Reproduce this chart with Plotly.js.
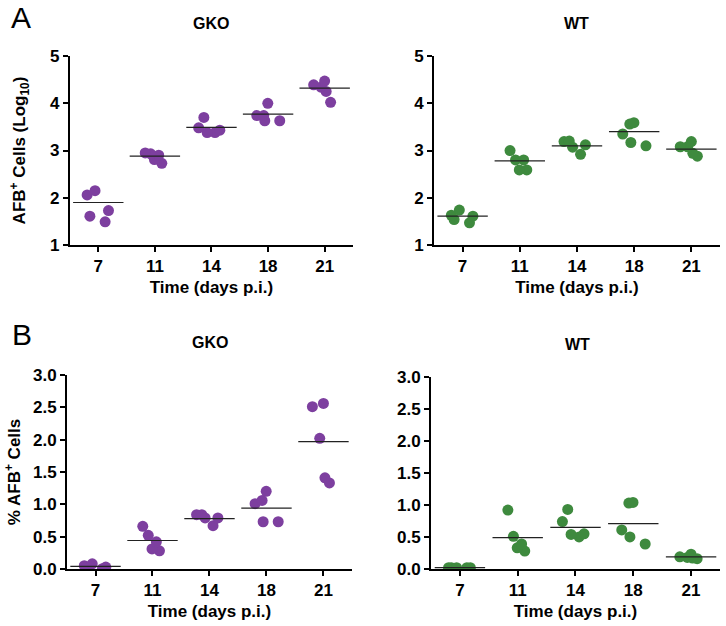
<!DOCTYPE html>
<html>
<head>
<meta charset="utf-8">
<script src="https://cdn.plot.ly/plotly-3.0.1.min.js"></script>
<style>
  html, body { margin: 0; padding: 0; background: #fff; }
  #chart { width: 726px; height: 626px; }
</style>
</head>
<body>
<div id="chart"></div>
<script>
// days post infection (categories)
const days = ['7', '11', '14', '18', '21'];

// A: AFB+ cells (log10), five mice per day
const gkoLog = [
  [2.15, 2.06, 1.73, 1.49, 1.61],
  [2.95, 2.90, 2.73, 2.81, 2.93],
  [3.70, 3.43, 3.38, 3.38, 3.48],
  [4.00, 3.74, 3.63, 3.63, 3.74],
  [4.39, 4.02, 4.34, 4.25, 4.47]
];
const gkoLogMean = [1.90, 2.88, 3.49, 3.77, 4.32];

const wtLog = [
  [1.74, 1.61, 1.47, 1.54, 1.63],
  [2.80, 3.00, 2.59, 2.59, 2.80],
  [3.19, 3.12, 2.92, 3.07, 3.20],
  [3.59, 3.35, 3.10, 3.56, 3.17],
  [3.19, 3.08, 2.88, 2.94, 3.08]
];
const wtLogMean = [1.61, 2.78, 3.10, 3.40, 3.03];

// B: % AFB+ cells
const gkoPct = [
  [0.08, 0.03, 0.005, 0.015, 0.05],
  [0.66, 0.42, 0.28, 0.52, 0.31],
  [0.84, 0.79, 0.67, 0.79, 0.84],
  [1.06, 0.73, 1.01, 0.73, 1.20],
  [2.51, 1.33, 2.02, 2.56, 1.41]
];
const gkoPctMean = [0.04, 0.44, 0.78, 0.94, 1.97];

const wtPct = [
  [0.02, 0.02, 0.02, 0.02, 0.02],
  [0.92, 0.39, 0.28, 0.33, 0.51],
  [0.93, 0.55, 0.50, 0.74, 0.54],
  [1.03, 1.04, 0.61, 0.39, 0.50],
  [0.23, 0.18, 0.16, 0.17, 0.19]
];
const wtPctMean = [0.02, 0.49, 0.65, 0.71, 0.19];

const purple = '#7d3f9f';
const green = '#3e8a3e';
const fontFam = 'Liberation Sans, Arial, sans-serif';

function dots(groups, color, xa, ya) {
  const x = [], y = [];
  groups.forEach((vals, i) => vals.forEach(v => { x.push(days[i]); y.push(v); }));
  return {
    type: 'box', x: x, y: y, xaxis: xa, yaxis: ya,
    boxpoints: 'all', jitter: 0.95, pointpos: 0,
    fillcolor: 'rgba(0,0,0,0)', line: { width: 0, color: 'rgba(0,0,0,0)' },
    marker: { color: color, size: 11 },
    showlegend: false, hoverinfo: 'y'
  };
}

function meanLine(means, xa, ya) {
  return {
    type: 'scatter', mode: 'markers', x: days, y: means, xaxis: xa, yaxis: ya,
    marker: { symbol: 'line-ew', size: 36, line: { width: 1.2, color: '#222' } },
    cliponaxis: false, showlegend: false, hoverinfo: 'y'
  };
}

const traces = [
  dots(gkoLog, purple, 'x', 'y'), meanLine(gkoLogMean, 'x', 'y'),
  dots(wtLog, green, 'x2', 'y2'), meanLine(wtLogMean, 'x2', 'y2'),
  dots(gkoPct, purple, 'x3', 'y3'), meanLine(gkoPctMean, 'x3', 'y3'),
  dots(wtPct, green, 'x4', 'y4'), meanLine(wtPctMean, 'x4', 'y4')
];

const tickFont = { family: fontFam, size: 17, color: '#000', weight: 700 };
const titleFont = { family: fontFam, size: 17, color: '#000', weight: 700 };

function xAxis(domain, anchor) {
  return {
    domain: domain, anchor: anchor, type: 'category', categoryarray: days,
    range: [-0.5, 4.5], showline: true, linewidth: 2, linecolor: '#000',
    ticks: 'outside', ticklen: 5, tickwidth: 2, tickcolor: '#000',
    showgrid: false, zeroline: false, tickfont: tickFont,
    title: { text: 'Time (days p.i.)', font: titleFont, standoff: 6 },
    fixedrange: true
  };
}

function yAxis(domain, anchor, range, dtick, fmt, title, standoff) {
  const ax = {
    domain: domain, anchor: anchor, range: range, dtick: dtick, tick0: 0,
    tickformat: fmt, showline: true, linewidth: 2, linecolor: '#000',
    ticks: 'outside', ticklen: 5, tickwidth: 2, tickcolor: '#000',
    showgrid: false, zeroline: false, tickfont: tickFont,
    fixedrange: true
  };
  if (title) ax.title = { text: title, font: titleFont, standoff: standoff };
  return ax;
}

function label(text, x, y, size, weight) {
  return {
    text: text, x: x, y: y, xref: 'paper', yref: 'paper', showarrow: false,
    xanchor: 'center', yanchor: 'middle',
    font: { family: fontFam, size: size, color: '#000', weight: weight }
  };
}

const layout = {
  width: 726, height: 626, autosize: false,
  margin: { l: 0, r: 0, t: 0, b: 0 },
  paper_bgcolor: '#fff', plot_bgcolor: 'rgba(0,0,0,0)',
  showlegend: false, boxmode: 'overlay',
  xaxis: xAxis([0.0964, 0.4862], 'y'),
  xaxis2: xAxis([0.5978, 0.9917], 'y2'),
  xaxis3: xAxis([0.0923, 0.4848], 'y3'),
  xaxis4: xAxis([0.5937, 0.9917], 'y4'),
  yaxis: yAxis([0.6086, 0.9105], 'x', [1, 5], 1, 'd', 'AFB<sup>+</sup> Cells (Log<sub>10</sub>)', 20),
  yaxis2: yAxis([0.6086, 0.9105], 'x2', [1, 5], 1, 'd'),
  yaxis3: yAxis([0.0911, 0.4010], 'x3', [0, 3], 0.5, '.1f', '% AFB<sup>+</sup> Cells', 8),
  yaxis4: yAxis([0.0911, 0.3978], 'x4', [0, 3], 0.5, '.1f'),
  annotations: [
    label('A', 0.029, 0.972, 30, 400),
    label('B', 0.030, 0.4657, 30, 400),
    label('GKO', 0.2906, 0.9617, 16, 700),
    label('WT', 0.7934, 0.9617, 16, 700),
    label('GKO', 0.2893, 0.4521, 16, 700),
    label('WT', 0.796, 0.4489, 16, 700)
  ]
};

Plotly.newPlot('chart', traces, layout, { displayModeBar: false, staticPlot: true });
</script>
</body>
</html>
